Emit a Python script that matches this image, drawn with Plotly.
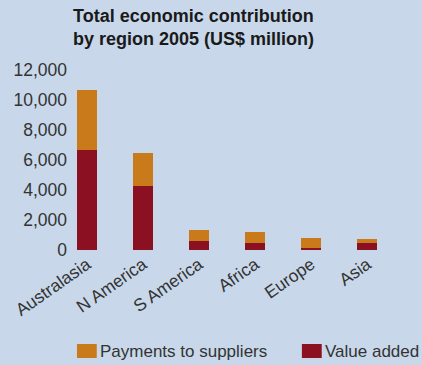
import plotly.graph_objects as go

# Regions and their contributions (US$ million)
regions = ["Australasia", "N America", "S America", "Africa", "Europe", "Asia"]
value_added = [6700, 4300, 600, 500, 130, 500]
payments_to_suppliers = [3950, 2150, 730, 680, 670, 220]
y_tick_values = [0, 2000, 4000, 6000, 8000, 10000, 12000]
y_tick_labels = ["0", "2,000", "4,000", "6,000", "8,000", "10,000", "12,000"]

title_text = "Total economic contribution<br>by region 2005 (US$ million)"
legend_names = ["Payments to suppliers", "Value added"]

ORANGE = "#c97b1c"
MAROON = "#8a1022"
BG = "#c8d8ea"
TEXT = "#333333"
FONT = "Liberation Sans, Arial, sans-serif"

W, H = 422, 365
L, R, T, B = 70, 22, 70, 115
plot_w = W - L - R
plot_h = H - T - B


def px_x(px):
    return (px - L) / plot_w


def px_y(py):
    return (H - B - py) / plot_h


fig = go.Figure()
fig.add_trace(go.Bar(x=regions, y=value_added, name=legend_names[1],
                     marker=dict(color=MAROON, line=dict(width=0)), width=0.353))
fig.add_trace(go.Bar(x=regions, y=payments_to_suppliers, name=legend_names[0],
                     marker=dict(color=ORANGE, line=dict(width=0)), width=0.353))

# Hand-placed legend: colour swatch plus label for each series
legend_items = [(legend_names[0], ORANGE, 74), (legend_names[1], MAROON, 301)]
for name, color, x0 in legend_items:
    fig.add_shape(type="rect", xref="paper", yref="paper",
                  x0=px_x(x0), x1=px_x(x0 + 20), y0=px_y(358), y1=px_y(344),
                  fillcolor=color, line=dict(width=0))
    fig.add_annotation(text=name, xref="paper", yref="paper",
                       x=px_x(x0 + 21), y=px_y(351), xanchor="left", yanchor="middle",
                       showarrow=False, font=dict(family=FONT, size=17, color=TEXT))

fig.add_annotation(text="<b>" + title_text.replace("<br>", "</b><br><b>") + "</b>",
                   xref="paper", yref="paper", x=px_x(68), y=px_y(4),
                   xanchor="left", yanchor="top", align="left", showarrow=False,
                   font=dict(family=FONT, size=18, color="#1a1a1a"))

fig.update_layout(
    width=W, height=H,
    margin=dict(l=L, r=R, t=T, b=B, pad=0),
    barmode="stack",
    showlegend=False,
    paper_bgcolor=BG, plot_bgcolor=BG,
    font=dict(family=FONT, size=17.5, color=TEXT),
    xaxis=dict(range=[-0.247, 5 + (W - R - 367) / 56.6], showgrid=False, zeroline=False,
               showline=False, ticks="", tickangle=-35, tickfont=dict(size=17.5, color=TEXT)),
    yaxis=dict(range=[0, 12000], showgrid=False, zeroline=False, showline=False, ticks="",
               tickvals=y_tick_values, ticktext=y_tick_labels, ticklabelstandoff=5,
               tickfont=dict(size=17.5, color=TEXT)),
)

fig.write_html("out.html")
